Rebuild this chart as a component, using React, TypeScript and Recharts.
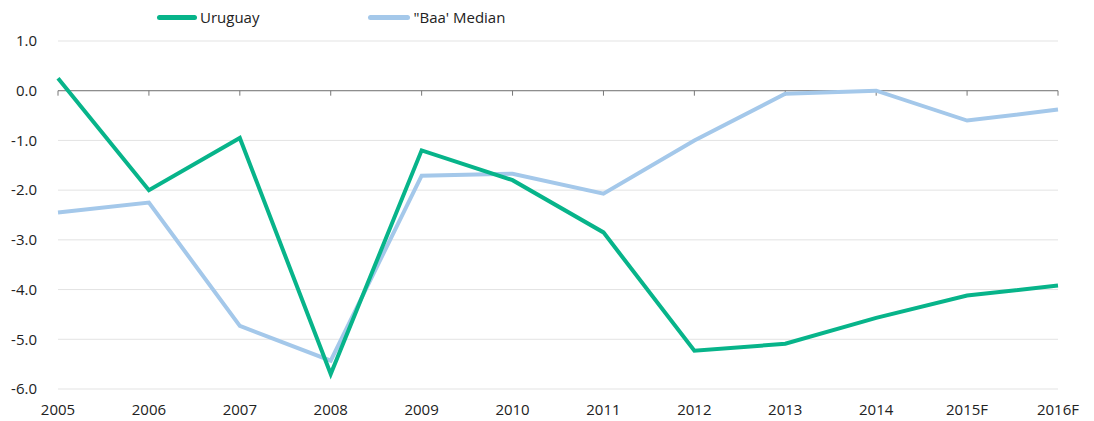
import React from 'react';
import {
  LineChart,
  Line,
  XAxis,
  YAxis,
  CartesianGrid,
  Legend,
  ReferenceLine,
} from 'recharts';

const years = ['2005', '2006', '2007', '2008', '2009', '2010', '2011', '2012', '2013', '2014', '2015F', '2016F'];
const uruguay = [0.25, -2.0, -0.95, -5.7, -1.2, -1.8, -2.85, -5.23, -5.09, -4.57, -4.12, -3.92];
const baaMedian = [-2.45, -2.25, -4.73, -5.43, -1.71, -1.67, -2.07, -1.0, -0.06, 0.0, -0.6, -0.38];
const yTicks = [-6, -5, -4, -3, -2, -1, 0, 1];

const GREEN = '#07b48a';
const BLUE = '#a4c8ea';
const FONT = '"Open Sans", "Noto Sans", sans-serif';

const data = years.map((year, i) => ({
  year,
  uruguay: uruguay[i],
  baa: baaMedian[i],
}));

const LegendContent = () => (
  <div style={{ display: 'flex', fontFamily: FONT, fontSize: 15, color: '#222', paddingLeft: 157, height: 22, alignItems: 'center' }}>
    <span style={{ display: 'inline-block', width: 40, height: 5, borderRadius: 3, background: GREEN, marginRight: 3 }} />
    <span style={{ marginRight: 109 }}>Uruguay</span>
    <span style={{ display: 'inline-block', width: 42, height: 5, borderRadius: 3, background: BLUE, marginRight: 3 }} />
    <span>"Baa' Median</span>
  </div>
);

export default function App() {
  return (
    <div style={{ position: 'absolute', left: 0, top: 0, width: 1094, height: 421, background: '#fff' }}>
      <LineChart width={1094} height={421} data={data} margin={{ top: 19, right: 36, bottom: 4, left: 8 }}>
        <Legend verticalAlign="top" align="left" content={<LegendContent />} wrapperStyle={{ top: 6, left: 0 }} />
        <CartesianGrid vertical={false} stroke="#e3e3e3" strokeWidth={1} />
        <XAxis
          dataKey="year"
          axisLine={false}
          tickLine={false}
          tick={{ fill: '#222', fontSize: 15, fontFamily: FONT }}
          height={28}
          tickMargin={9}
          padding={{ left: 0, right: 0 }}
        />
        <YAxis
          domain={[-6, 1]}
          ticks={yTicks}
          interval={0}
          axisLine={false}
          tickLine={false}
          width={50}
          tickMargin={15}
          tick={{ fill: '#222', fontSize: 15, fontFamily: FONT }}
          tickFormatter={(v: number) => v.toFixed(1)}
        />
        <ReferenceLine y={0} stroke="#777" strokeWidth={1} />
        {years.map((y) => (
          <ReferenceLine
            key={y}
            segment={[{ x: y, y: 0 }, { x: y, y: -0.1 }]}
            stroke="#777"
            strokeWidth={1}
          />
        ))}
        <Line
          dataKey="baa"
          name="'Baa' Median"
          stroke={BLUE}
          strokeWidth={4}
          dot={false}
          activeDot={false}
          isAnimationActive={false}
        />
        <Line
          dataKey="uruguay"
          name="Uruguay"
          stroke={GREEN}
          strokeWidth={4}
          dot={false}
          activeDot={false}
          isAnimationActive={false}
        />
      </LineChart>
    </div>
  );
}
